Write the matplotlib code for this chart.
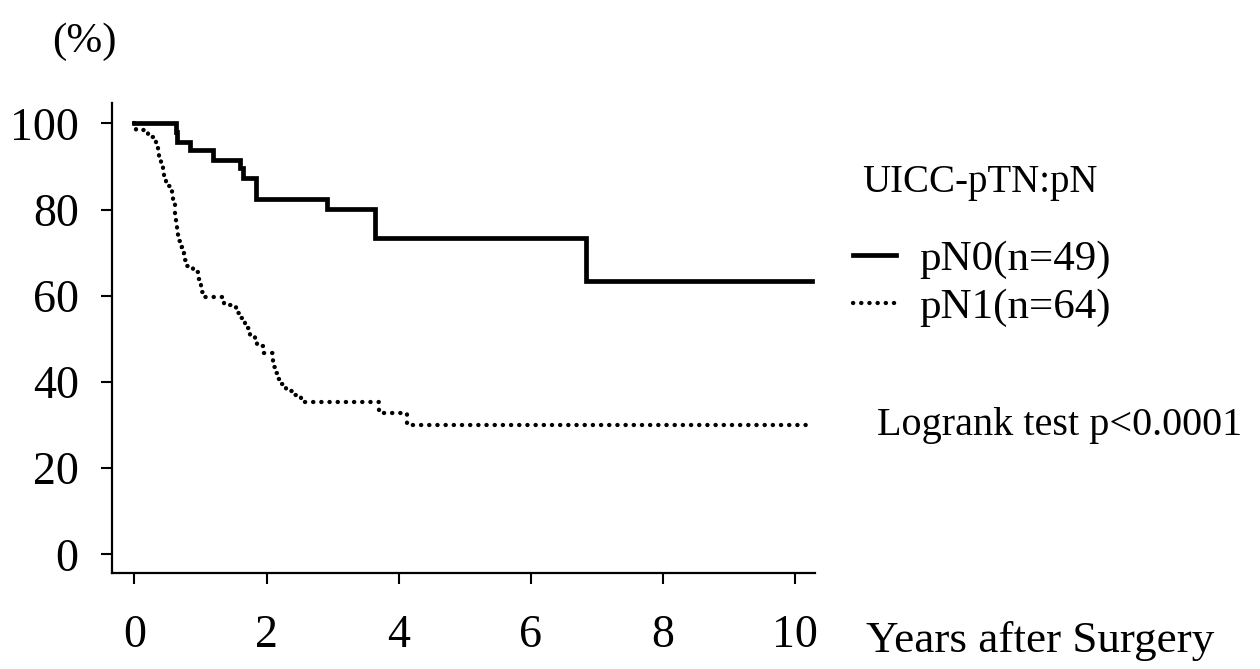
import matplotlib
matplotlib.use("Agg")
import matplotlib.pyplot as plt

plt.rcParams['font.family'] = ['Liberation Serif', 'DejaVu Serif']

# ---- data ----
pn0_time = [0.0, 0.63, 0.65, 0.84, 1.19, 1.60, 1.64, 1.84, 2.91, 3.64, 6.83, 10.25]
pn0_surv = [100.0, 97.9, 95.7, 93.8, 91.5, 89.6, 87.2, 82.4, 80.1, 73.5, 63.5, 63.5]

pn1_time = [0.0, 0.02, 0.21, 0.33, 0.35, 0.37, 0.40, 0.43, 0.45, 0.47, 0.57, 0.59,
            0.61, 0.62, 0.63, 0.64, 0.66, 0.68, 0.70, 0.72, 0.75, 0.79, 0.88, 0.96,
            0.99, 1.01, 1.03, 1.36, 1.53, 1.58, 1.65, 1.68, 1.75, 1.82, 1.86, 1.95,
            2.09, 2.10, 2.12, 2.16, 2.21, 2.30, 2.40, 2.52, 3.70, 4.13, 10.20]
pn1_surv = [100.0, 98.4, 96.9, 95.0, 93.2, 91.6, 90.0, 88.5, 87.0, 85.5, 83.8, 82.2,
            80.6, 79.0, 77.4, 75.8, 74.2, 72.7, 71.2, 69.8, 68.3, 67.0, 65.4, 63.9,
            62.4, 60.8, 59.7, 57.8, 55.9, 54.9, 54.0, 52.6, 50.8, 49.6, 48.3, 46.7,
            45.0, 43.4, 42.0, 40.8, 39.6, 37.8, 37.0, 35.4, 32.8, 30.0, 30.0]

label_pn0 = "pN0(n=49)"
label_pn1 = "pN1(n=64)"
legend_title = "UICC-pTN:pN"
x_ticks = [0, 2, 4, 6, 8, 10]
y_ticks = [0, 20, 40, 60, 80, 100]

W, H = 1260, 669
fig = plt.figure(figsize=(W / 100, H / 100), dpi=100)
fig.patch.set_facecolor('white')

left, right, bottom, top = 112, 815, 573, 103
ax = fig.add_axes([left / W, 1 - bottom / H, (right - left) / W, (bottom - top) / H])

l0, = ax.step(pn0_time, pn0_surv, where='post', color='black', lw=3.4,
              solid_joinstyle='miter', label=label_pn0)
l1, = ax.step(pn1_time, pn1_surv, where='post', color='black', lw=3.1,
              linestyle=(0, (0.05, 1.85)), dash_capstyle='round', label=label_pn1)

ax.set_xlim(-0.34, 10.3)
ax.set_ylim(-4.3, 104.7)
ax.set_xticks(x_ticks)
ax.set_yticks(y_ticks)
ax.tick_params(axis='both', direction='out', length=8, width=1.5, labelsize=33,
               color='black', labelcolor='black')
ax.tick_params(axis='y', pad=16)
ax.tick_params(axis='x', pad=22)
for s in ['top', 'right']:
    ax.spines[s].set_visible(False)
for s in ['left', 'bottom']:
    ax.spines[s].set_linewidth(1.6)

fig.text(862 / W, 1 - 182 / H, legend_title, fontsize=28, ha='left', va='center')
leg = fig.legend(handles=[l0, l1], loc='upper left',
                 bbox_to_anchor=(853 / W, 1 - 240 / H), frameon=False,
                 fontsize=31, handlelength=1.0,
                 handletextpad=0.55, labelspacing=0.2, borderpad=0,
                 borderaxespad=0)

fig.text(84 / W, 1 - 42 / H, "(%)", fontsize=31, ha='center', va='center')
fig.text(877 / W, 1 - 425 / H, "Logrank test p<0.0001", fontsize=29,
         ha='left', va='center')
fig.text(866 / W, 1 - 652 / H, "Years after Surgery", fontsize=32.5,
         ha='left', va='baseline')

fig.savefig('out.png', dpi=100, facecolor='white')
